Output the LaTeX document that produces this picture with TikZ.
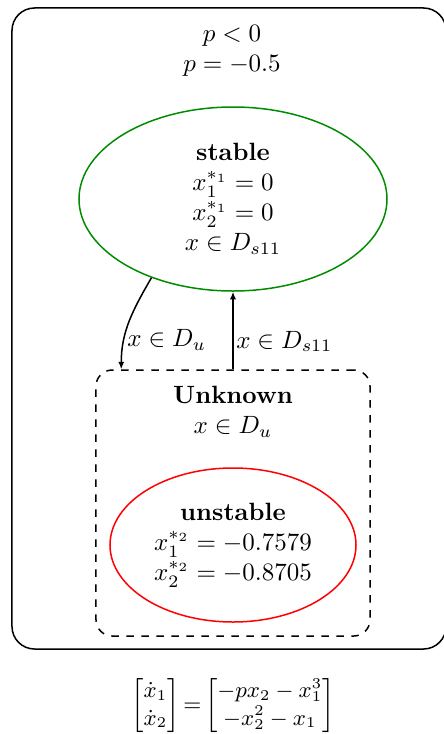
\documentclass[tikz,border=0pt]{standalone}
\usepackage{amsmath}
\usepackage{xcolor}
\usepackage{tikz}
\usetikzlibrary{shapes.geometric,arrows.meta}
\definecolor{stablegreen}{HTML}{008C00}
\definecolor{unstablered}{HTML}{FF0000}

\tikzset{
  regionbox/.style={draw, semithick, rounded corners=9pt},
  unknownbox/.style={draw, semithick, dashed, rounded corners=6.5pt},
  eqstate/.style={ellipse, semithick, align=center, inner sep=1pt},
  trans/.style={-{Latex[length=3pt,width=2.5pt]}, semithick},
  translabel/.style={right, inner sep=1pt}
}

\begin{document}
\begin{tikzpicture}[x=0.4pt,y=-0.4pt]
\useasboundingbox (0,0) rectangle (444,734);

% outer region for p < 0
\node[regionbox, minimum width=173.6pt, minimum height=256.4pt] (region) at (229,328.5) {};
\node[align=center] (param) at (232,51) {$p<0$\\$p=-0.5$};

% stable equilibrium
\node[eqstate, draw=stablegreen, minimum width=123.2pt, minimum height=73.6pt] (stable) at (233,199) {
  \textbf{stable}\\
  $x_1^{*_1}=0$\\
  $x_2^{*_1}=0$\\
  $x\in D_{s11}$};

% unknown area with the unstable equilibrium
\node[unknownbox, minimum width=109.6pt, minimum height=106.4pt] (unknown) at (233,503) {};
\node[align=center] (unknowntitle) at (233,412) {\textbf{Unknown}\\$x\in D_u$};
\node[eqstate, draw=unstablered, minimum width=98.4pt, minimum height=61.6pt] (unstable) at (233,545) {
  \textbf{unstable}\\
  $x_1^{*_2}=-0.7579$\\
  $x_2^{*_2}=-0.8705$};

% transitions
\draw[trans] (stable.224.6) to[out=240, in=90]
  node[translabel, pos=0.71] {$x\in D_u$} ([xshift=10.4pt]unknown.north west);
\draw[trans] (unknown.north) --
  node[translabel, pos=0.36] {$x\in D_{s11}$} (stable.south);

% system equations
\node[font=\small] (system) at (233,706) {$\begin{bmatrix}\dot{x}_1\\ \dot{x}_2\end{bmatrix}{=}\begin{bmatrix}-px_2-x_1^3\\ -x_2^2-x_1\end{bmatrix}$};
\end{tikzpicture}
\end{document}
